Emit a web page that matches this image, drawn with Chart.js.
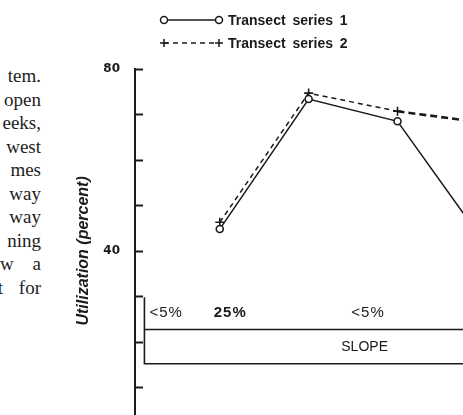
<!DOCTYPE html>
<html><head><meta charset="utf-8">
<script src="https://cdn.jsdelivr.net/npm/chart.js@4.4.0/dist/chart.umd.min.js"></script>
<style>
html,body{margin:0;padding:0;width:463px;height:415px;overflow:hidden;background:#fff;}
#wrap{position:absolute;left:0;top:0;width:600px;height:455px;}
#page{position:absolute;left:-200px;top:64px;width:241px;text-align:right;font:19px "Liberation Serif",serif;line-height:23.5px;color:#1e1e1e;white-space:nowrap;}
</style></head>
<body>
<div id="page">
<div>tem.</div>
<div>open</div>
<div>eeks,</div>
<div>west</div>
<div>mes</div>
<div>way</div>
<div>way</div>
<div>ning</div>
<div style="word-spacing:14px">w a</div>
<div style="word-spacing:11px">t for</div>
</div>
<div id="wrap"><canvas id="c" width="600" height="455"></canvas></div>
<script>
// ---- data ----
const xPositions = [1, 2, 3, 4];
const series1 = [44.8, 73.4, 68.5, 41.2];
const series2 = [46.3, 74.7, 70.7, 68.1];
const seriesNames = ["Transect series 1", "Transect series 2"];
const yTickLabels = [80, 40];
const slopeClasses = ["<5%", "25%", "<5%"];
const slopeTitle = "SLOPE";
const yTitle = "Utilization (percent)";

const INK = '#1a1a1a';
const toPts = arr => xPositions.map((x, i) => ({x: x, y: arr[i]}));

const decor = {
  id: 'decor',
  afterDraw(chart) {
    const ctx = chart.ctx, xs = chart.scales.x, ys = chart.scales.y, ca = chart.chartArea;
    ctx.save();
    ctx.strokeStyle = INK; ctx.fillStyle = INK;
    // inward tick marks
    ctx.lineWidth = 2;
    ys.ticks.forEach(t => {
      const py = Math.round(ys.getPixelForValue(t.value)) + 0.5;
      ctx.beginPath(); ctx.moveTo(ca.left, py); ctx.lineTo(ca.left + 8, py); ctx.stroke();
    });
    // slope box
    ctx.lineWidth = 1.6;
    const xl = xs.getPixelForValue(0.152);
    const yTop = ys.getPixelForValue(29.8), yMid = ys.getPixelForValue(22.7), yBot = ys.getPixelForValue(15.2);
    ctx.beginPath();
    ctx.moveTo(xl, yTop); ctx.lineTo(xl, yBot); ctx.lineTo(ca.right, yBot);
    ctx.moveTo(xl, yMid); ctx.lineTo(ca.right, yMid);
    ctx.stroke();
    ctx.textBaseline = 'middle'; ctx.textAlign = 'left';
    try { ctx.letterSpacing = '1px'; } catch (e) {}
    const rowY = ys.getPixelForValue(26.3);
    const classX = [0.209, 0.932, 2.48];
    slopeClasses.forEach((s, i) => {
      ctx.font = (i === 1 ? 'bold ' : '') + '15px "Liberation Sans", Arial, sans-serif';
      ctx.fillText(s, xs.getPixelForValue(classX[i]), rowY);
    });
    try { ctx.letterSpacing = '0px'; } catch (e) {}
    ctx.font = '14px "Liberation Sans", Arial, sans-serif';
    ctx.textAlign = 'center';
    ctx.fillText(slopeTitle, xs.getPixelForValue(2.63), ys.getPixelForValue(18.8));
    // legend
    ctx.textAlign = 'left';
    ctx.font = 'bold 14px "Liberation Sans", Arial, sans-serif';
    try { ctx.wordSpacing = '3px'; } catch (e) {}
    const rows = [20, 43];
    chart.data.datasets.forEach((ds, i) => {
      const y = rows[i], x1 = 164, x2 = 219;
      ctx.lineWidth = 1.5;
      ctx.setLineDash(i === 1 ? [5, 4] : []);
      ctx.beginPath(); ctx.moveTo(x1, y); ctx.lineTo(x2, y); ctx.stroke();
      ctx.setLineDash([]);
      [x1, x2].forEach(px => {
        if (i === 0) {
          ctx.beginPath(); ctx.arc(px, y, 3.5, 0, Math.PI * 2);
          ctx.fillStyle = '#fff'; ctx.fill(); ctx.stroke(); ctx.fillStyle = INK;
        } else {
          ctx.beginPath(); ctx.moveTo(px - 4, y); ctx.lineTo(px + 4, y);
          ctx.moveTo(px, y - 4); ctx.lineTo(px, y + 4); ctx.stroke();
        }
      });
      ctx.fillText(seriesNames[i], 228, y + 1);
    });
    ctx.restore();
  }
};

new Chart(document.getElementById('c'), {
  type: 'line',
  data: {
    datasets: [
      {
        label: seriesNames[0], data: toPts(series1),
        borderColor: INK, borderWidth: 1.5, tension: 0,
        pointStyle: 'circle', pointRadius: 3.5, pointBorderWidth: 1.6,
        pointBackgroundColor: '#fff', pointBorderColor: INK
      },
      {
        label: seriesNames[1], data: toPts(series2),
        borderColor: INK, borderWidth: 1.5, borderDash: [5, 4], tension: 0,
        pointStyle: 'cross', pointRadius: 4.5, pointBorderWidth: 1.6,
        pointBorderColor: INK,
        segment: {
          borderWidth: c => c.p0DataIndex >= 2 ? 2.6 : 1.5,
          borderDash: c => c.p0DataIndex >= 2 ? [7, 4] : [5, 4]
        }
      }
    ]
  },
  options: {
    responsive: false, animation: false, devicePixelRatio: 1,
    layout: {padding: {left: 0, top: 69, right: 0, bottom: 8}},
    plugins: {legend: {display: false}, tooltip: {enabled: false}},
    scales: {
      x: {type: 'linear', min: 0.046, max: 5.21, display: false},
      y: {
        type: 'linear', min: 0, max: 80,
        afterFit: s => { s.width = 135; },
        ticks: {
          stepSize: 10, padding: 15, color: INK,
          font: {family: '"DejaVu Sans", sans-serif', weight: 'bold', size: 12},
          callback: v => yTickLabels.includes(v) ? String(v) : ''
        },
        grid: {display: false, drawTicks: false},
        border: {display: true, color: INK, width: 2},
        title: {
          display: true, text: yTitle, color: INK,
          font: {family: '"Liberation Sans", Arial, sans-serif', weight: 'bold', style: 'italic', size: 16},
          padding: {top: 74, bottom: 0}
        }
      }
    }
  },
  plugins: [decor]
});
</script>
</body></html>
